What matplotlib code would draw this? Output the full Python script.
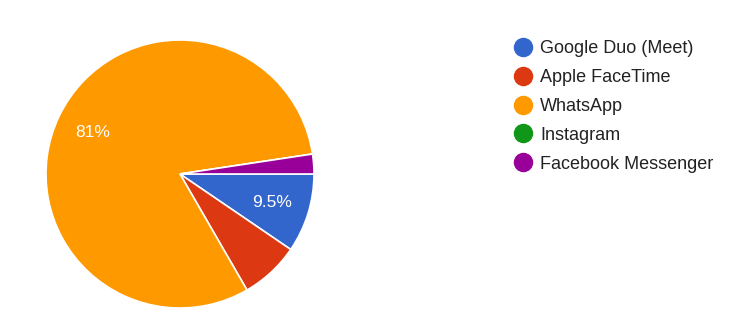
import matplotlib.pyplot as plt
from matplotlib.lines import Line2D

plt.rcParams['font.family'] = ['Liberation Sans', 'DejaVu Sans']

apps = ['Google Duo (Meet)', 'Apple FaceTime', 'WhatsApp', 'Instagram', 'Facebook Messenger']
counts = [4, 3, 34, 0, 1]
colors = ['#3366cc', '#dc3912', '#ff9900', '#109618', '#990099']


def pct_label(pct):
    # only slices large enough get a label, like Google Forms does
    return f'{pct:.2g}%' if pct >= 8 else ''


fig = plt.figure(figsize=(7.54, 3.25), dpi=100)
ax = fig.add_axes([46 / 754, 17 / 325, 268 / 754, 268 / 325])
wedges, _, autotexts = ax.pie(counts, colors=colors, startangle=0, counterclock=False,
                              autopct=pct_label, pctdistance=0.72,
                              wedgeprops=dict(edgecolor='white', linewidth=1.2),
                              textprops=dict(color='white', fontsize=12.5))
ax.set_xlim(-1, 1)
ax.set_ylim(-1, 1)
ax.set_aspect('equal')

handles = [Line2D([], [], marker='o', linestyle='', markersize=13, markerfacecolor=c,
                  markeredgecolor=c) for c in colors]
fig.legend(handles, apps, loc='upper left', bbox_to_anchor=(512 / 754, 1 - 40 / 325),
           frameon=False, fontsize=13, labelcolor='#222222', handletextpad=0.35,
           labelspacing=0.66, handlelength=1.2, borderaxespad=0, borderpad=0)

fig.savefig('out.png', dpi=100)
